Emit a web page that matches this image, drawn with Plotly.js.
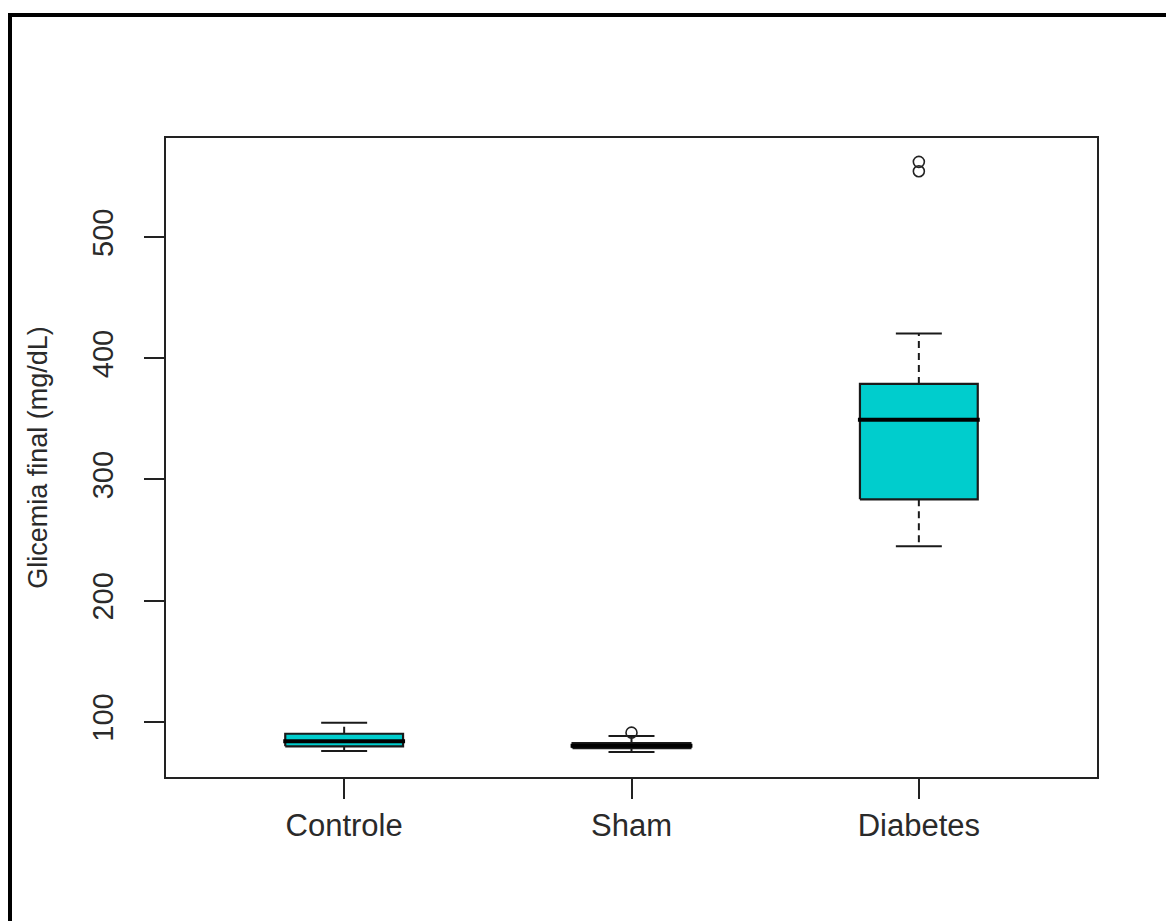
<!DOCTYPE html>
<html>
<head>
<meta charset="utf-8">
<script src="https://cdn.plot.ly/plotly-3.0.1.min.js"></script>
<style>
  html, body { margin: 0; padding: 0; background: #ffffff; overflow: hidden; }
  #chart { position: absolute; left: 0; top: 0; width: 1166px; height: 921px; }
  #frame { position: absolute; left: 8px; top: 13px; width: 1300px; height: 1100px;
           border-left: 4px solid #000; border-top: 4px solid #000; pointer-events: none; }
</style>
</head>
<body>
<div id="chart"></div>
<div id="frame"></div>
<script>
// ---- data ----
const categories   = ['Controle', 'Sham', 'Diabetes'];
const lowerWhisker = [75.9, 75.2, 245.0];
const q1           = [79.8, 78.3, 283.6];
const median       = [84.1, 80.2, 349.2];
const q3           = [90.2, 82.4, 378.9];
const upperWhisker = [99.3, 88.3, 420.5];
const outlierGroup = ['Sham', 'Diabetes', 'Diabetes'];
const outlierValue = [91.1, 554.4, 562.1];
const yTicks       = [100, 200, 300, 400, 500];

// ---- style constants ----
const boxHalf = 0.205, capHalf = 0.08, medHalf = 0.212;
const fillCol = '#00CDCD', lineCol = '#1a1a1a';
const fontFam = '"Liberation Sans", Arial, sans-serif';

const traces = [];
// whiskers (dashed)
const wx = [], wy = [];
categories.forEach((c, i) => {
  wx.push(i, i, null, i, i, null);
  wy.push(q3[i], upperWhisker[i], null, q1[i], lowerWhisker[i], null);
});
traces.push({type: 'scatter', mode: 'lines', x: wx, y: wy, hoverinfo: 'skip',
  line: {color: lineCol, width: 2, dash: '7px,5px'}});
// caps
const cx = [], cy = [];
categories.forEach((c, i) => {
  cx.push(i - capHalf, i + capHalf, null, i - capHalf, i + capHalf, null);
  cy.push(upperWhisker[i], upperWhisker[i], null, lowerWhisker[i], lowerWhisker[i], null);
});
traces.push({type: 'scatter', mode: 'lines', x: cx, y: cy, hoverinfo: 'skip',
  line: {color: lineCol, width: 2}});
// boxes
categories.forEach((c, i) => {
  traces.push({type: 'scatter', mode: 'lines', fill: 'toself', fillcolor: fillCol,
    x: [i - boxHalf, i + boxHalf, i + boxHalf, i - boxHalf, i - boxHalf],
    y: [q1[i], q1[i], q3[i], q3[i], q1[i]],
    line: {color: lineCol, width: 2.2}, name: c});
});
// medians
const mx = [], my = [];
categories.forEach((c, i) => {
  mx.push(i - medHalf, i + medHalf, null);
  my.push(median[i], median[i], null);
});
traces.push({type: 'scatter', mode: 'lines', x: mx, y: my, hoverinfo: 'skip',
  line: {color: '#000', width: 4}});
// outliers
traces.push({type: 'scatter', mode: 'markers',
  x: outlierGroup.map(g => categories.indexOf(g)), y: outlierValue,
  marker: {symbol: 'circle-open', size: 11, color: '#222', line: {width: 1.6, color: '#222'}}});

const layout = {
  width: 1166, height: 921,
  margin: {l: 166, r: 69, t: 138, b: 144},
  paper_bgcolor: '#ffffff', plot_bgcolor: '#ffffff',
  showlegend: false,
  font: {family: fontFam, color: '#2a2a2a'},
  xaxis: {
    range: [-0.62, 2.62], tickmode: 'array',
    tickvals: categories.map((c, i) => i), ticktext: categories,
    ticks: 'outside', ticklen: 20, tickwidth: 2, tickcolor: '#222',
    ticklabelstandoff: 0,
    tickfont: {size: 31, family: fontFam, color: '#2a2a2a'},
    showgrid: false, zeroline: false,
    showline: true, linecolor: '#222', linewidth: 2, mirror: true
  },
  yaxis: {
    range: [54.5, 581.8], tickmode: 'array', tickvals: yTicks,
    ticktext: yTicks.map(String),
    ticks: 'outside', ticklen: 20, tickwidth: 2, tickcolor: '#222',
    tickangle: -90, ticklabelstandoff: 19,
    tickfont: {size: 29, family: fontFam, color: '#2a2a2a'},
    showgrid: false, zeroline: false,
    showline: true, linecolor: '#222', linewidth: 2, mirror: true,
    title: {text: 'Glicemia final (mg/dL)', standoff: 32,
      font: {size: 27, family: fontFam, color: '#2a2a2a'}},
    automargin: false
  }
};

Plotly.newPlot('chart', traces, layout, {displayModeBar: false, staticPlot: true});
</script>
</body>
</html>
